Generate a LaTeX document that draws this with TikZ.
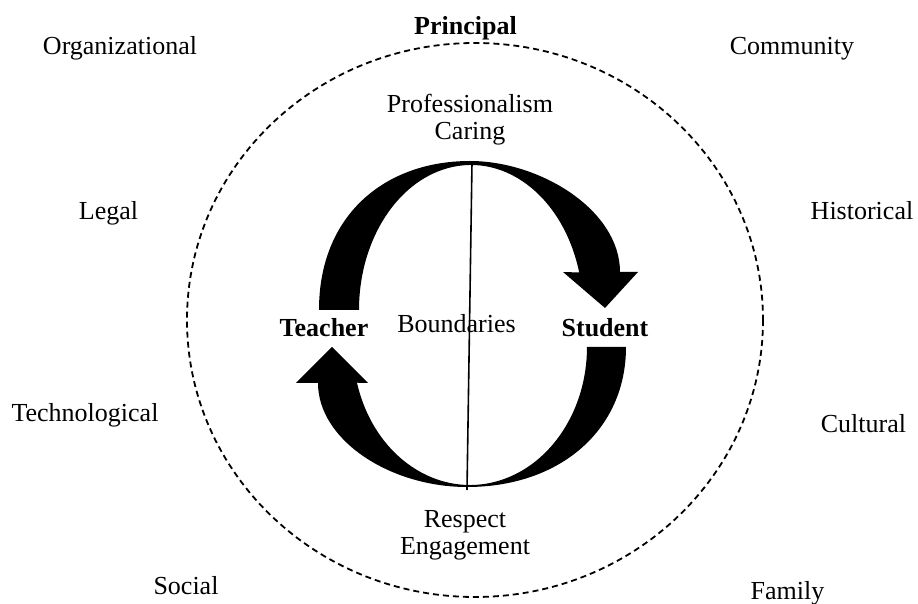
\documentclass[tikz,border=0pt]{standalone}
\usepackage{fontspec}
\setmainfont{Liberation Serif}
\usetikzlibrary{calc}

\begin{document}
\begin{tikzpicture}[x=0.5pt, y=-0.5pt,
    lbl/.style={inner sep=0pt, anchor=base, align=center,
                font=\fontsize{13}{13.5}\selectfont},
    key/.style={lbl, font=\fontsize{13}{13.5}\selectfont\bfseries},
    ring/.style={draw, line width=0.9pt, dash pattern=on 3pt off 2pt}]
    \useasboundingbox (0,0) rectangle (918,604);

    % Outer ring
    \draw[ring] (475,320) ellipse [x radius=288, y radius=277];

    % Factors round the ring
    \node[lbl] (org)  at (120,55)   {Organizational};
    \node[lbl] (leg)  at (108.5,220) {Legal};
    \node[lbl] (tech) at (85,422)   {Technological};
    \node[lbl] (soc)  at (186,595)  {Social};
    \node[lbl] (com)  at (792,55)   {Community};
    \node[lbl] (hist) at (862,220)  {Historical};
    \node[lbl] (cult) at (863.5,433) {Cultural};
    \node[lbl] (fam)  at (787.5,600) {Family};
    \node[key] (prin) at (465.5,35) {Principal};

    % Curved arrows
    \coordinate (ctop) at (471,310);
    \coordinate (cbot) at (470,347);
    \fill (319,310) .. controls (319,215) and (385,161) .. (470,161)
        .. controls (540,161) and (620,210) .. (620,272)
        -- (638,272) -- (605,308) -- (563,272)
        -- ($(ctop)+(345:112 and 145)$)
        arc[start angle=345, end angle=180, x radius=112, y radius=145] -- cycle;
    \fill (626,347) .. controls (626,430) and (560,487) .. (467,487)
        .. controls (390,487) and (318,440) .. (318,383)
        -- (296,383) -- (332,347) -- (368,383)
        -- ($(cbot)+(165:117 and 138)$)
        arc[start angle=165, end angle=0, x radius=117, y radius=138] -- cycle;

    % Dividing line
    \coordinate (ltop) at (472,163);
    \coordinate (lbot) at (467,490);
    \draw[line width=0.8pt] (ltop) -- (lbot);

    % Inner labels
    \node[lbl] (pc)  at (470,140) {Professionalism\\Caring};
    \node[lbl] (re)  at (465,555) {Respect\\Engagement};
    \node[key] (tea) at (324,337) {Teacher};
    \node[lbl] (bnd) at (456.5,333) {Boundaries};
    \node[key] (stu) at (605,337) {Student};
\end{tikzpicture}
\end{document}
